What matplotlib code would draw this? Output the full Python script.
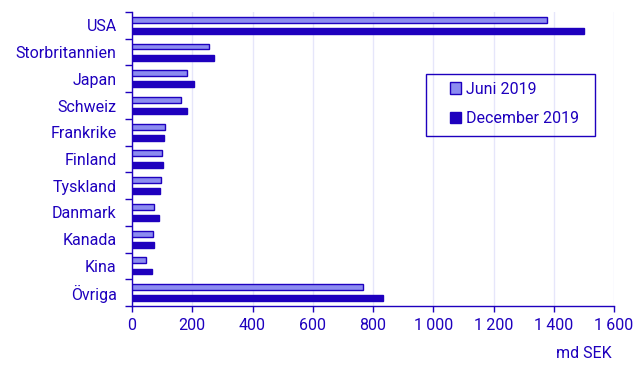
import matplotlib.pyplot as plt
from matplotlib.ticker import FuncFormatter, FixedLocator
from matplotlib.patches import Rectangle
import numpy as np

plt.rcParams['font.family'] = ['Roboto', 'DejaVu Sans']

countries = ['USA', 'Storbritannien', 'Japan', 'Schweiz', 'Frankrike', 'Finland',
             'Tyskland', 'Danmark', 'Kanada', 'Kina', 'Övriga']
juni_2019 = [1376, 255, 181, 162, 108, 98, 95, 72, 69, 48, 766]
december_2019 = [1500, 271, 205, 181, 105, 102, 93, 89, 72, 65, 832]

dark = '#1e00be'
light = '#8c8cf0'
W, H = 643, 386

fig = plt.figure(figsize=(W / 100, H / 100), dpi=100)
ax = fig.add_axes([132 / W, 1 - 306 / H, 482 / W, 294 / H])

y = np.arange(len(countries))
h = 0.22
ax.barh(y - 0.21, juni_2019, height=h, color=light, edgecolor=dark, linewidth=1, label='Juni 2019', zorder=3)
ax.barh(y + 0.21, december_2019, height=h, color=dark, edgecolor=dark, linewidth=1, label='December 2019', zorder=3)

ax.set_ylim(len(countries) - 0.5, -0.5)
ax.set_xlim(0, 1600)
ax.set_xticks(range(0, 1601, 200))
ax.xaxis.set_major_formatter(FuncFormatter(lambda v, p: f'{int(v):,}'.replace(',', '\u2009')))
ax.set_yticks(y)
ax.set_yticklabels(countries)
ax.yaxis.set_minor_locator(FixedLocator(np.arange(-0.5, len(countries), 1)))
ax.tick_params(axis='y', which='major', length=0, pad=11, labelsize=11.5, labelcolor=dark)
ax.tick_params(axis='y', which='minor', length=5, color=dark, width=1)
ax.tick_params(axis='x', length=4, color=dark, width=1, labelsize=11.5, labelcolor=dark, pad=5)

for s in ['top', 'right']:
    ax.spines[s].set_visible(False)
for s in ['left', 'bottom']:
    ax.spines[s].set_color(dark)
    ax.spines[s].set_linewidth(1)

ax.grid(axis='x', color='#e6e6fa', linewidth=1, zorder=0)
ax.set_axisbelow(True)

# legend box drawn separately, entries placed inside
fig.patches.append(Rectangle((426 / W, 1 - 136 / H), (595 - 426) / W, (136 - 74) / H,
                             transform=fig.transFigure, fill=False, edgecolor=dark, linewidth=1))
leg = fig.legend(*ax.get_legend_handles_labels(), loc='center left',
                 bbox_to_anchor=(450 / W, 1 - 104 / H),
                 frameon=False, fontsize=11.5,
                 handlelength=0.7, handleheight=0.7, handletextpad=0.3,
                 labelspacing=0.93, borderpad=0, borderaxespad=0)
for t in leg.get_texts():
    t.set_color(dark)

fig.text(612 / W, 1 - 354 / H, 'md SEK', ha='right', va='center', color=dark, fontsize=11.5)

fig.savefig('out.png', dpi=100)
